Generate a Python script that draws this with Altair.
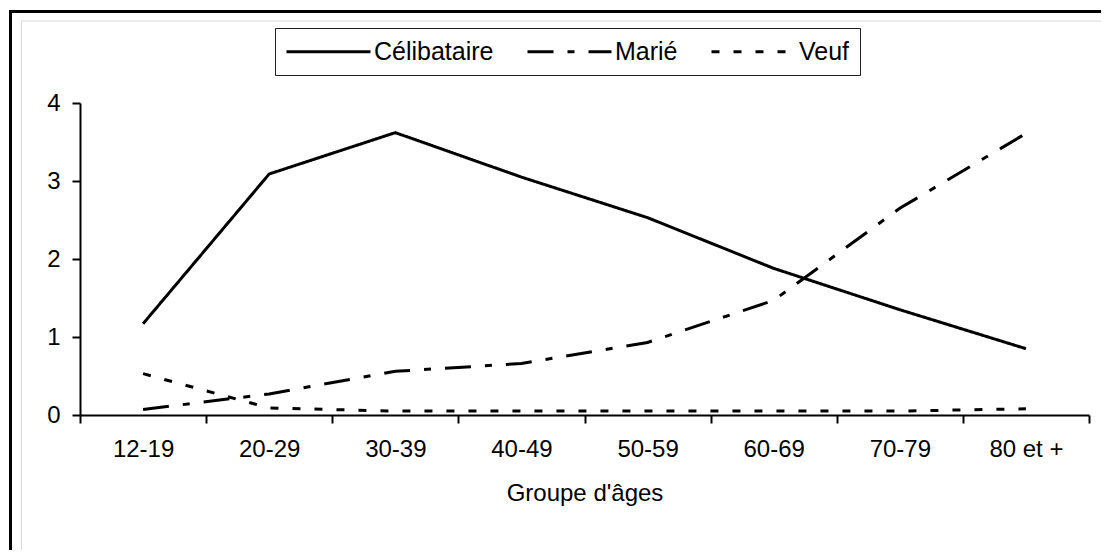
import altair as alt
import pandas as pd

categories = ["12-19", "20-29", "30-39", "40-49", "50-59", "60-69", "70-79", "80 et +"]
series = ["Célibataire", "Marié", "Veuf"]
celibataire = [1.17, 3.09, 3.62, 3.05, 2.53, 1.88, 1.35, 0.85]
marie = [0.07, 0.27, 0.56, 0.66, 0.93, 1.47, 2.65, 3.61]
veuf = [0.53, 0.09, 0.05, 0.05, 0.05, 0.05, 0.05, 0.08]
y_ticks = [0, 1, 2, 3, 4]

rows = []
for name, vals in zip(series, [celibataire, marie, veuf]):
    for i, (c, v) in enumerate(zip(categories, vals)):
        rows.append({"groupe": c, "statut": name, "valeur": v, "ordre": i})
df = pd.DataFrame(rows)

FONT = "Liberation Sans"
FS = 24

frame = alt.Chart(alt.Data(values=[{"a": 1}])).mark_rect(
    fillOpacity=0, stroke="black", strokeWidth=3
).encode(
    x=alt.value(-69.5), x2=alt.value(1040), y=alt.value(-91.5), y2=alt.value(460)
)
inner = alt.Chart(alt.Data(values=[{"a": 1}])).mark_rect(
    fillOpacity=0, stroke="#d9d9d9", strokeWidth=1
).encode(
    x=alt.value(-58.5), x2=alt.value(1040), y=alt.value(-82), y2=alt.value(460)
)

lines = alt.Chart(df).mark_line(color="black", strokeWidth=3, strokeJoin="miter").encode(
    x=alt.X("groupe:N", sort=categories,
            scale=alt.Scale(paddingInner=0, paddingOuter=0),
            axis=alt.Axis(title="Groupe d'âges", labelAngle=0, tickBand="extent",
                          labelPadding=14, titlePadding=20)),
    y=alt.Y("valeur:Q", scale=alt.Scale(domain=[0, 4], nice=False),
            axis=alt.Axis(title=None, values=y_ticks, labelPadding=12, grid=False)),
    strokeDash=alt.StrokeDash(
        "statut:N",
        scale=alt.Scale(domain=series, range=[[1, 0], [26, 14, 7, 14], [8, 14]]),
        legend=alt.Legend(
            title=None, orient="none", legendX=195, legendY=-75, direction="horizontal",
            symbolType="M-1,0H6", symbolSize=576, symbolStrokeWidth=3,
            symbolStrokeColor="black", symbolFillColor="transparent",
            labelFontSize=25, labelFont=FONT,
            labelColor="black", labelOffset=62, columnPadding=27, padding=10,
            strokeColor="#222222",
        ),
    ),
    order="ordre:Q",
)

chart = alt.layer(frame, inner, lines).properties(
    width=1009, height=312,
    autosize=alt.AutoSizeParams(type="none"),
    padding={"left": 72, "top": 95, "right": 12, "bottom": 135},
).configure_view(stroke=None).configure_axis(
    domainColor="black", domainWidth=2, tickColor="black", tickWidth=2, tickSize=8,
    labelFont=FONT, labelFontSize=FS, labelColor="black",
    titleFont=FONT, titleFontSize=FS, titleFontWeight="normal", titleColor="black",
    grid=False,
)

chart.save("out.html", embed_options={"renderer": "svg", "actions": False})
